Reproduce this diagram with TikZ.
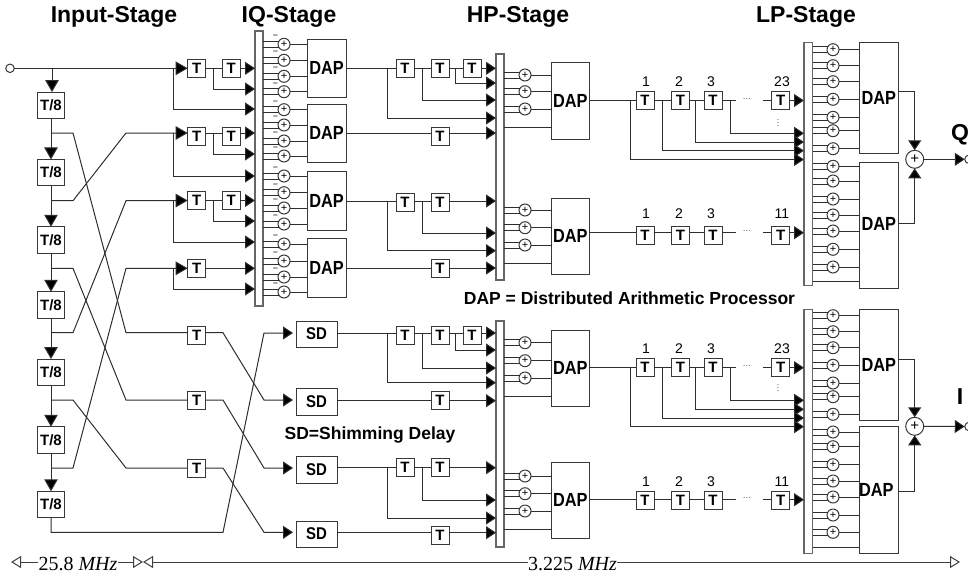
\documentclass[tikz,border=0pt]{standalone}
\usepackage{fontspec}
\setmainfont{Liberation Sans}
\newfontfamily\serifx{Liberation Serif}
\usetikzlibrary{arrows.meta,calc}
\newcommand\fsz[1]{\fontsize{#1}{#1}\selectfont}
\newcommand\daptxt{\fsz{19}\bfseries\scalebox{0.86}[1]{DAP}}
\newcommand\sdtxt{\fsz{17}\bfseries\scalebox{0.88}[1]{SD}}
\tikzset{
  wire/.style={draw=black!82,line width=1pt},
  arr/.style={wire,-{Triangle[length=10pt,width=13pt,fill=black]}},
  bigarr/.style={wire,-{Triangle[length=12pt,width=13.5pt,fill=black]}},
  openarr/.style={-{Triangle[open,length=10pt,width=12pt,fill=white]}},
  boxbase/.style={draw=black!78,line width=1pt,fill=white,inner sep=0pt,outer sep=0pt},
  busbar/.style={boxbase,draw=black!60,line width=1.5pt},
  dapbox/.style={boxbase},
  tbox/.style={boxbase,minimum width=18pt,minimum height=18pt,font=\fsz{15}\bfseries},
  tebox/.style={boxbase,minimum width=26.5pt,minimum height=26.5pt,font=\fsz{15}\bfseries},
  addr/.style={boxbase,circle,minimum size=12pt,font=\fsz{11}},
  sumadd/.style={boxbase,circle,minimum size=18pt,font=\fsz{15}},
  port/.style={boxbase,circle,minimum size=8.5pt},
  title/.style={inner sep=0pt,font=\fsz{23}\bfseries},
  note/.style={inner sep=0pt,font=\fsz{17.5}\bfseries},
  num/.style={inner sep=0pt,font=\fsz{14}},
  dots/.style={inner sep=0pt,font=\fsz{10},text=black!60},
  freq/.style={inner sep=0pt,font=\fsz{20}\serifx},
  dim/.style={draw=black!75,line width=1pt},
}
\newcommand\bx[7]{%
  \pgfmathsetmacro\bxcx{(#3+#5)/2}\pgfmathsetmacro\bxcy{(#4+#6)/2}%
  \pgfmathsetmacro\bxw{#5-#3}\pgfmathsetmacro\bxh{#6-#4}%
  \node[#1,minimum width=\bxw pt,minimum height=\bxh pt] (#2) at (\bxcx,\bxcy) {#7};}
% name x y bus dap
\newcommand\adder[5]{%
  \node[addr] (#1) at (#2,#3) {+};
  \coordinate (#1u) at ($(#1.center)+(-5.2,-3)$);
  \coordinate (#1d) at ($(#1.center)+(-5.2,3)$);
  \draw[wire] (#4.east |- #1u) -- (#1u);
  \draw[wire] (#4.east |- #1d) -- (#1d);
  \draw[wire] (#1.east) -- (#5.west |- #1.east);}
\newcommand\minusmark[1]{\node[inner sep=0pt,font=\fsz{9}] at ($(#1.center)+(-8.5,-7)$) {−};}
% branch: x, y of line, y of end, bus
\newcommand\tap[4]{\coordinate (jn) at (#1,#2); \draw[arr] (jn) |- (#4.west |- 0,#3);}
% LP chain: prefix, source dap, y line, y box, y label, last label, bus
\newcommand\lpchain[7]{%
  \node[tbox] (#1a) at (645,#4) {T};
  \node[tbox] (#1b) at (680.5,#4) {T};
  \node[tbox] (#1c) at (713,#4) {T};
  \node[tbox] (#1d) at (780.7,#4) {T};
  \node[num] at (646,#5) {1};
  \node[num] at (679,#5) {2};
  \node[num] at (711,#5) {3};
  \node[num] at (782,#5) {#6};
  \node[dots] (#1dots) at (747,#3-2) {...};
  \coordinate (#1e) at (736,#3);
  \coordinate (#1f) at (763,#3);
  \draw[wire] (#2.east |- 0,#3) -- (#1a.west |- 0,#3);
  \draw[wire] (#1a.east |- 0,#3) -- (#1b.west |- 0,#3);
  \draw[wire] (#1b.east |- 0,#3) -- (#1c.west |- 0,#3);
  \draw[wire] (#1c.east |- 0,#3) -- (#1e);
  \draw[wire] (#1f) -- (#1d.west |- 0,#3);
  \draw[arr] (#1d.east |- 0,#3) -- (#7.west |- 0,#3);}
\begin{document}
\begin{tikzpicture}[x=1pt,y=-1pt]
\useasboundingbox (0,0) rectangle (968,579);
\clip (0,0) rectangle (968,579);
% titles
\node[title] at (114,17) {Input-Stage};
\node[title] at (289,17) {IQ-Stage};
\node[title] at (518,17) {HP-Stage};
\node[title] at (806,17) {LP-Stage};
\node[note] at (629.5,298.5) {DAP = Distributed Arithmetic Processor};
\node[note] at (370,435) {SD=Shimming Delay};
% buses
\bx{busbar}{bq}{255}{31}{263}{306}{}
\bx{busbar}{bha}{496}{54}{504}{280}{}
\bx{busbar}{bhb}{496}{321}{504}{547}{}
\bx{busbar}{bla}{804}{42.3}{812.7}{285.7}{}
\bx{busbar}{blb}{804}{309.3}{812.7}{553.3}{}
% DAP boxes
\bx{dapbox}{dqa}{307}{39}{346}{97}{\daptxt}
\bx{dapbox}{dqb}{307}{104}{346}{162}{\daptxt}
\bx{dapbox}{dqc}{307}{171}{346}{230}{\daptxt}
\bx{dapbox}{dqd}{307}{238.5}{346}{297}{\daptxt}
\bx{dapbox}{dha}{551.7}{62.7}{589}{139}{\daptxt}
\bx{dapbox}{dhb}{551.7}{198}{589}{274}{\daptxt}
\bx{dapbox}{dhc}{551.7}{330}{589}{406.3}{\daptxt}
\bx{dapbox}{dhd}{551.7}{462.3}{589}{538.3}{\daptxt}
\bx{dapbox}{dla}{859.7}{42.3}{898}{153.3}{\daptxt}
\bx{dapbox}{dlb}{859.7}{162.7}{898}{288.7}{\raisebox{3pt}{\daptxt}}
\bx{dapbox}{dlc}{859.7}{309.3}{898}{420.7}{\daptxt}
\bx{dapbox}{dld}{859.7}{426.7}{898}{553.3}{\kern-5pt\daptxt}
% IQ adders
\foreach \n/\y in {1/44.3,2/60.3,3/76.3,4/91.7}{\adder{qa\n}{284}{\y}{bq}{dqa}\minusmark{qa\n}}
\foreach \n/\y in {1/109.7,2/125,3/141,4/156}{\adder{qb\n}{284}{\y}{bq}{dqb}\minusmark{qb\n}}
\foreach \n/\y in {1/176,2/192.7,3/208,4/224}{\adder{qc\n}{284}{\y}{bq}{dqc}\minusmark{qc\n}}
\foreach \n/\y in {1/244,2/261,3/277,4/292}{\adder{qd\n}{284}{\y}{bq}{dqd}\minusmark{qd\n}}
% HP adders
\foreach \n/\y in {1/75,2/91.7,3/109}{\adder{ha\n}{525}{\y}{bha}{dha}}
\foreach \n/\y in {1/210,2/227.7,3/245}{\adder{hb\n}{525}{\y}{bha}{dhb}}
\foreach \n/\y in {1/342.7,2/360.7,3/378}{\adder{hc\n}{525}{\y}{bhb}{dhc}}
\foreach \n/\y in {1/476,2/493.7,3/511}{\adder{hd\n}{525}{\y}{bhb}{dhd}}
\draw[wire] (bha.east |- 0,127) -- (dha.west |- 0,127);
\draw[wire] (bha.east |- 0,263) -- (dhb.west |- 0,263);
\draw[wire] (bhb.east |- 0,396) -- (dhc.west |- 0,396);
\draw[wire] (bhb.east |- 0,529) -- (dhd.west |- 0,529);
% LP adders
\foreach \n/\y in {1/49.7,2/65.7,3/81.7,4/99.3,5/117.3,6/130.7,7/148.7}{\adder{la\n}{833}{\y}{bla}{dla}}
\foreach \n/\y in {1/166.3,2/181,3/199,4/215,5/231,6/249.3,7/267}{\adder{lb\n}{833}{\y}{bla}{dlb}}
\foreach \n/\y in {1/315.7,2/331.7,3/347.7,4/365.3,5/383,6/396.7,7/414.3}{\adder{lc\n}{833}{\y}{blb}{dlc}}
\foreach \n/\y in {1/432,2/446.7,3/464.7,4/481,5/497,6/515,7/532.3}{\adder{ld\n}{833}{\y}{blb}{dld}}
\draw[wire] (bla.east |- 0,281.7) -- (dlb.west |- 0,281.7);
\draw[wire] (blb.east |- 0,547.3) -- (dld.west |- 0,547.3);
% input
\node[port] (in) at (10,68.3) {};
\node[tebox] (ia) at (51,105.3) {T/8};
\node[tebox] (ib) at (51,172.7) {T/8};
\node[tebox] (ic) at (51,240) {T/8};
\node[tebox] (id) at (51,305) {T/8};
\node[tebox] (ie) at (51,372.3) {T/8};
\node[tebox] (if) at (51,440) {T/8};
\node[tebox] (ig) at (51,504.5) {T/8};
% IQ delay elements
\node[tbox] (ta1) at (196.7,68.3) {T};
\node[tbox] (ta2) at (231.3,68.3) {T};
\node[tbox] (tb1) at (196.7,136) {T};
\node[tbox] (tb2) at (231.3,136) {T};
\node[tbox] (tc1) at (196.7,200.5) {T};
\node[tbox] (tc2) at (231.3,200.5) {T};
\node[tbox] (td1) at (196.7,268.3) {T};
\node[tbox] (te1) at (196.7,335.7) {T};
\node[tbox] (tf1) at (196.7,400) {T};
\node[tbox] (tg1) at (196.7,468) {T};
% SD
\bx{boxbase}{sa}{296}{321}{337}{347}{\sdtxt}
\bx{boxbase}{sb}{296}{388}{337}{415}{\sdtxt}
\bx{boxbase}{sc}{296}{456}{337}{483}{\sdtxt}
\bx{boxbase}{sd}{296}{521}{337}{547}{\sdtxt}
% HP delay elements
\node[tbox] (ha) at (405,68.3) {T};
\node[tbox] (hb) at (440,68.3) {T};
\node[tbox] (hc) at (472,68.3) {T};
\node[tbox] (hd) at (440,136) {T};
\node[tbox] (he) at (405,202) {T};
\node[tbox] (hf) at (440,202) {T};
\node[tbox] (hg) at (440,268) {T};
\node[tbox] (hh) at (405,335.7) {T};
\node[tbox] (hi) at (440,335.7) {T};
\node[tbox] (hj) at (472,335.7) {T};
\node[tbox] (hk) at (440,400.7) {T};
\node[tbox] (hl) at (405,467.7) {T};
\node[tbox] (hm) at (440,467.7) {T};
\node[tbox] (hn) at (440,535.7) {T};
% input chain
\draw[bigarr] (in.east) -- (ta1.west);
\coordinate (j0) at (52,68.3);
\draw[bigarr] (j0) -- (j0 |- ia.north);
\foreach \a/\b in {ia/ib,ib/ic,ic/id,id/ie,ie/if,if/ig}{\draw[bigarr] (\a.south) -- (\b.north);}
% cross wiring
\draw[wire] (ia.south |- 0,133) -- (73,133) -- (126,332.7) -- (te1.west |- 0,332.7);
\draw[bigarr] (ib.south |- 0,200.7) -- (73,200.7) -- (126,133) -- (tb1.west |- 0,133);
\draw[wire] (ic.south |- 0,268.3) -- (73,268.3) -- (126,400) -- (tf1.west);
\draw[bigarr] (id.south |- 0,332.7) -- (73,332.7) -- (126,200.7) -- (tc1.west);
\draw[wire] (ie.south |- 0,400) -- (73,400) -- (126,468) -- (tg1.west);
\draw[bigarr] (if.south |- 0,468) -- (73,468) -- (126,268.3) -- (td1.west);
\draw[arr,shorten >=3pt] (ig.south) |- (223,532.3) -- (264,333) -- (sa.west |- 0,333);
\draw[arr,shorten >=3pt] (te1.east |- 0,332.7) -- (223,332.7) -- (264,400) -- (sb.west |- 0,400);
\draw[arr,shorten >=3pt] (tf1.east) -- (223,400) -- (264,468) -- (sc.west |- 0,468);
\draw[arr,shorten >=3pt] (tg1.east) -- (223,468) -- (264,532.3) -- (sd.west |- 0,532.3);
% IQ rows
\draw[wire] (ta1.east) -- (ta2.west);
\draw[arr] (ta2.east) -- (bq.west |- ta2.east);
\tap{213}{68.3}{89}{bq}
\tap{173}{68.5}{109}{bq}
\draw[wire] (tb1.east |- 0,133) -- (tb2.west |- 0,133);
\draw[arr] (tb2.east |- 0,133) -- (bq.west |- 0,133);
\tap{213}{133}{154}{bq}
\tap{173}{133}{176}{bq}
\draw[wire] (tc1.east) -- (tc2.west);
\draw[arr] (tc2.east) -- (bq.west |- tc2.east);
\tap{213}{200.5}{221}{bq}
\tap{173}{200.7}{242}{bq}
\draw[arr] (td1.east) -- (bq.west |- td1.east);
\tap{173}{268.3}{289}{bq}
% HP rows, upper
\draw[wire] (dqa.east |- ha.west) -- (ha.west);
\draw[wire] (ha.east) -- (hb.west);
\draw[wire] (hb.east) -- (hc.west);
\draw[arr] (hc.east) -- (bha.west |- hc.east);
\tap{387}{68.3}{118}{bha}
\tap{422}{68.3}{100}{bha}
\tap{455}{68.3}{83}{bha}
\draw[wire] (dqb.east |- 0,133) -- (hd.west |- 0,133);
\draw[arr] (hd.east |- 0,133) -- (bha.west |- 0,133);
\draw[wire] (dqc.east |- 0,201) -- (he.west |- 0,201);
\draw[wire] (he.east |- 0,201) -- (hf.west |- 0,201);
\draw[arr] (hf.east |- 0,201) -- (bha.west |- 0,201);
\tap{387}{201}{250.7}{bha}
\tap{422}{201}{233}{bha}
\draw[wire] (dqd.east |- hg.west) -- (hg.west);
\draw[arr] (hg.east) -- (bha.west |- hg.east);
% HP rows, lower
\draw[wire] (sa.east |- 0,333) -- (hh.west |- 0,333);
\draw[wire] (hh.east |- 0,333) -- (hi.west |- 0,333);
\draw[wire] (hi.east |- 0,333) -- (hj.west |- 0,333);
\draw[arr] (hj.east |- 0,333) -- (bhb.west |- 0,333);
\tap{387}{333}{382.7}{bhb}
\tap{422}{333}{368}{bhb}
\tap{455}{333}{350}{bhb}
\draw[wire] (sb.east |- hk.west) -- (hk.west);
\draw[arr] (hk.east) -- (bhb.west |- hk.east);
\draw[wire] (sc.east |- hl.west) -- (hl.west);
\draw[wire] (hl.east) -- (hm.west);
\draw[arr] (hm.east) -- (bhb.west |- hm.east);
\tap{387}{467.7}{518}{bhb}
\tap{422}{467.7}{500}{bhb}
\draw[wire] (sd.east |- 0,532.7) -- (hn.west |- 0,532.7);
\draw[arr] (hn.east |- 0,532.7) -- (bhb.west |- 0,532.7);
% LP chains
\lpchain{pa}{dha}{100.5}{100.8}{81.7}{23}{bla}
\tap{730.7}{100.5}{133.3}{bla}
\tap{695}{100.5}{142}{bla}
\tap{662.7}{100.5}{150.7}{bla}
\tap{630.7}{100.5}{159.5}{bla}
\node[dots,rotate=90] at (778,123) {...};
\lpchain{pb}{dhb}{232.7}{235.8}{214}{11}{bla}
\lpchain{pc}{dhc}{367.7}{367.7}{348.3}{23}{blb}
\tap{730.7}{367.7}{400.3}{blb}
\tap{695}{367.7}{409.3}{blb}
\tap{662.7}{367.7}{418}{blb}
\tap{630.7}{367.7}{426.7}{blb}
\node[dots,rotate=90] at (778,388) {...};
\lpchain{pd}{dhd}{499.7}{500.8}{481.7}{11}{blb}
% output sums
\node[sumadd] (sq) at (914.7,159.3) {+};
\node[sumadd] (si) at (914.7,426.3) {+};
\node[port] (oq) at (969,159.3) {};
\node[port] (oi) at (969,426.5) {};
\node[inner sep=0pt,font=\fsz{23}\bfseries] at (960,135) {Q};
\node[inner sep=0pt,font=\fsz{23}\bfseries] at (960,396.7) {I};
\draw[arr] (dla.east |- 0,91.7) -| (sq.north);
\draw[arr] (dlb.east |- 0,223.7) -| (sq.south);
\draw[arr] (dlc.east |- 0,359.3) -| (si.north);
\draw[arr] (dld.east |- 0,491.7) -| (si.south);
\draw[arr] (sq.east) -- (oq.west);
\draw[arr] (si.east) -- (oi.west);
% rates
\node[freq] (fa) at (78,564) {25.8 \textit{MHz}};
\node[freq] (fb) at (572.5,564) {3.225 \textit{MHz}};
\coordinate (m1) at (11,562);
\coordinate (m2) at (143,562);
\coordinate (m3) at (960,562);
\draw[dim,openarr] (fa.west |- m1) -- (m1);
\draw[dim,openarr] (fa.east |- m1) -- (m2);
\draw[dim,openarr] (fb.west |- m2) -- (m2);
\draw[dim,openarr] (fb.east |- m3) -- (m3);
\end{tikzpicture}
\end{document}
